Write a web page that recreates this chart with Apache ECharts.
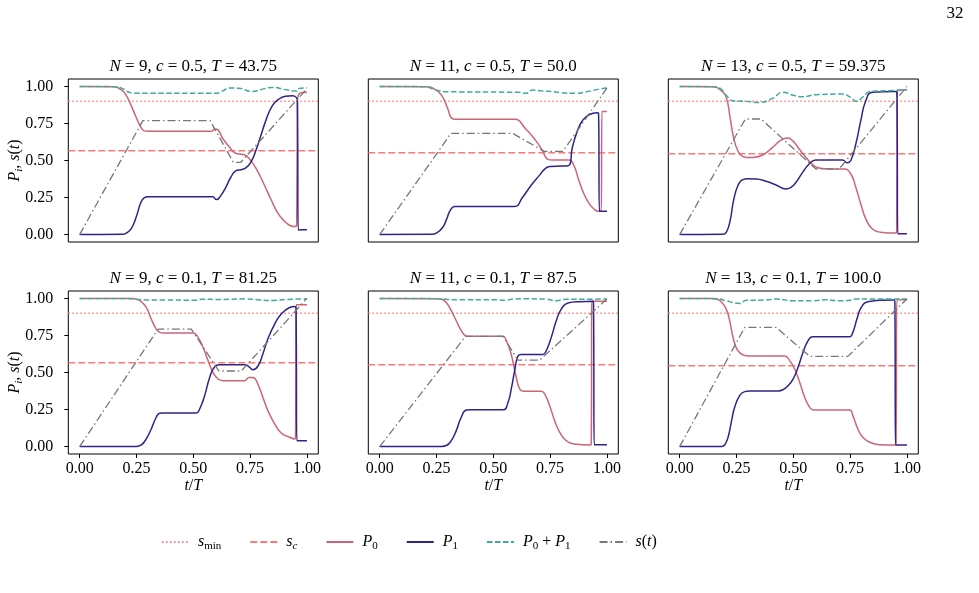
<!DOCTYPE html>
<html>
<head>
<meta charset="utf-8">
<script src="https://cdn.jsdelivr.net/npm/echarts@6/dist/echarts.min.js"></script>
<style>
  html, body { margin: 0; padding: 0; background: #fff; }
  #chart { width: 979px; height: 593px; }
</style>
</head>
<body>
<div id="chart"></div>
<script>
// ---- data (t/T, value) ----
const TICKS = [0, 0.25, 0.5, 0.75, 1]
const S_MIN = 0.9
const S_C = [0.565, 0.553, 0.545] // per N = 9, 11, 13

// N = 9, c = 0.5, T = 43.75
const S_A = [[0, 0], [0.278, 0.769], [0.574, 0.769], [0.676, 0.488], [0.709, 0.488], [1, 0.985]]
const P0_A = [[0, 1], [0.15, 0.998], [0.185, 0.975], [0.205, 0.94], [0.227, 0.87], [0.249, 0.79], [0.271, 0.72], [0.285, 0.70], [0.30, 0.697], [0.577, 0.697], [0.596, 0.712], [0.61, 0.705], [0.629, 0.65], [0.658, 0.593], [0.68, 0.555], [0.702, 0.544], [0.724, 0.539], [0.753, 0.499], [0.782, 0.43], [0.811, 0.34], [0.841, 0.24], [0.87, 0.15], [0.899, 0.094], [0.928, 0.06], [0.947, 0.054], [0.955, 0.072], [0.958, 0.88], [0.968, 0.953], [1, 0.96]]
const P1_A = [[0, 0], [0.19, 0.002], [0.205, 0.01], [0.227, 0.04], [0.249, 0.12], [0.27, 0.22], [0.285, 0.25], [0.30, 0.256], [0.585, 0.256], [0.602, 0.236], [0.621, 0.263], [0.643, 0.319], [0.665, 0.387], [0.687, 0.43], [0.709, 0.438], [0.731, 0.45], [0.753, 0.488], [0.775, 0.566], [0.797, 0.667], [0.819, 0.769], [0.848, 0.87], [0.877, 0.915], [0.906, 0.933], [0.936, 0.937], [0.953, 0.926], [0.958, 0.9], [0.962, 0.031], [1, 0.033]]
const SUM_A = [[0, 1], [0.16, 0.998], [0.19, 0.985], [0.215, 0.962], [0.24, 0.953], [0.6, 0.953], [0.63, 0.97], [0.658, 0.989], [0.70, 0.987], [0.76, 0.966], [0.80, 0.98], [0.848, 0.993], [0.90, 0.98], [0.936, 0.97], [0.955, 0.968], [0.962, 0.985], [1, 0.99]]

// N = 11, c = 0.5, T = 50.0
const S_B = [[0, 0], [0.314, 0.683], [0.585, 0.683], [0.724, 0.562], [0.807, 0.562], [1, 0.989]]
const P0_B = [[0, 1], [0.2, 0.998], [0.249, 0.975], [0.278, 0.926], [0.30, 0.847], [0.314, 0.79], [0.33, 0.778], [0.592, 0.778], [0.643, 0.712], [0.687, 0.634], [0.716, 0.566], [0.738, 0.51], [0.76, 0.503], [0.833, 0.503], [0.855, 0.465], [0.877, 0.364], [0.899, 0.274], [0.921, 0.211], [0.943, 0.173], [0.962, 0.157], [0.975, 0.157], [0.978, 0.831], [1, 0.831]]
const P1_B = [[0, 0], [0.23, 0.002], [0.249, 0.01], [0.278, 0.05], [0.295, 0.106], [0.31, 0.162], [0.329, 0.189], [0.345, 0.19], [0.592, 0.19], [0.629, 0.252], [0.665, 0.33], [0.702, 0.398], [0.731, 0.449], [0.753, 0.46], [0.83, 0.465], [0.848, 0.589], [0.87, 0.70], [0.892, 0.768], [0.921, 0.809], [0.958, 0.822], [0.963, 0.82], [0.967, 0.157], [1, 0.157]]
const SUM_B = [[0, 1], [0.2, 0.998], [0.249, 0.975], [0.30, 0.964], [0.615, 0.96], [0.643, 0.953], [0.673, 0.975], [0.709, 0.971], [0.753, 0.966], [0.80, 0.957], [0.863, 0.953], [0.906, 0.962], [0.96, 0.98], [1, 0.989]]

// N = 13, c = 0.5, T = 59.375
const S_C13 = [[0, 0], [0.289, 0.78], [0.358, 0.78], [0.599, 0.443], [0.702, 0.443], [1, 1]]
const P0_C = [[0, 1], [0.15, 0.998], [0.183, 0.971], [0.205, 0.926], [0.222, 0.79], [0.237, 0.656], [0.256, 0.566], [0.278, 0.526], [0.30, 0.52], [0.322, 0.521], [0.365, 0.537], [0.409, 0.589], [0.446, 0.638], [0.475, 0.652], [0.497, 0.634], [0.526, 0.578], [0.556, 0.521], [0.585, 0.472], [0.614, 0.449], [0.658, 0.443], [0.724, 0.443], [0.753, 0.409], [0.775, 0.319], [0.797, 0.207], [0.819, 0.106], [0.848, 0.038], [0.884, 0.016], [0.95, 0.01], [0.955, 0.02], [0.958, 0.971], [1, 0.978]]
const P1_C = [[0, 0], [0.19, 0.002], [0.205, 0.015], [0.222, 0.094], [0.237, 0.229], [0.256, 0.33], [0.278, 0.371], [0.30, 0.376], [0.336, 0.375], [0.38, 0.36], [0.424, 0.335], [0.468, 0.308], [0.49, 0.319], [0.512, 0.353], [0.541, 0.42], [0.57, 0.476], [0.599, 0.503], [0.716, 0.503], [0.738, 0.485], [0.753, 0.5], [0.775, 0.611], [0.797, 0.769], [0.819, 0.903], [0.848, 0.96], [0.95, 0.966], [0.956, 0.95], [0.96, 0.005], [1, 0.005]]
const SUM_C = [[0, 1], [0.15, 0.998], [0.18, 0.985], [0.205, 0.94], [0.234, 0.903], [0.292, 0.899], [0.351, 0.892], [0.409, 0.919], [0.453, 0.96], [0.497, 0.942], [0.541, 0.93], [0.6, 0.944], [0.716, 0.948], [0.753, 0.926], [0.778, 0.899], [0.804, 0.926], [0.84, 0.966], [0.92, 0.971], [1, 0.978]]

// N = 9, c = 0.1, T = 81.25
const S_D = [[0, 0], [0.345, 0.793], [0.491, 0.793], [0.613, 0.51], [0.711, 0.51], [1, 1]]
const P0_D = [[0, 1], [0.23, 0.999], [0.249, 0.996], [0.271, 0.978], [0.293, 0.939], [0.315, 0.861], [0.337, 0.793], [0.352, 0.771], [0.37, 0.766], [0.499, 0.766], [0.521, 0.737], [0.543, 0.67], [0.565, 0.58], [0.587, 0.501], [0.609, 0.456], [0.631, 0.445], [0.726, 0.445], [0.745, 0.467], [0.762, 0.467], [0.784, 0.422], [0.806, 0.333], [0.828, 0.243], [0.858, 0.153], [0.887, 0.092], [0.924, 0.063], [0.946, 0.052], [0.95, 0.06], [0.953, 0.957], [1, 0.957]]
const P1_D = [[0, 0], [0.249, 0.001], [0.271, 0.011], [0.293, 0.052], [0.315, 0.119], [0.337, 0.198], [0.352, 0.225], [0.37, 0.227], [0.513, 0.227], [0.528, 0.254], [0.55, 0.344], [0.572, 0.467], [0.594, 0.539], [0.616, 0.553], [0.726, 0.553], [0.748, 0.535], [0.762, 0.519], [0.784, 0.542], [0.806, 0.625], [0.828, 0.726], [0.858, 0.827], [0.887, 0.894], [0.924, 0.939], [0.947, 0.946], [0.952, 0.93], [0.956, 0.04], [1, 0.04]]
const SUM_D = [[0, 1], [0.205, 0.999], [0.26, 0.993], [0.293, 0.99], [0.38, 0.99], [0.5, 0.987], [0.543, 0.994], [0.616, 0.993], [0.73, 0.997], [0.79, 0.99], [0.85, 0.986], [0.91, 0.993], [1, 0.997]]

// N = 11, c = 0.1, T = 87.5
const S_E = [[0, 0], [0.378, 0.744], [0.543, 0.744], [0.608, 0.584], [0.704, 0.584], [1, 0.996]]
const P0_E = [[0, 1], [0.26, 0.998], [0.271, 0.996], [0.293, 0.973], [0.315, 0.917], [0.337, 0.849], [0.359, 0.782], [0.378, 0.748], [0.39, 0.744], [0.543, 0.744], [0.557, 0.715], [0.572, 0.658], [0.587, 0.569], [0.601, 0.467], [0.616, 0.389], [0.631, 0.373], [0.711, 0.373], [0.726, 0.355], [0.748, 0.276], [0.77, 0.175], [0.792, 0.097], [0.821, 0.04], [0.865, 0.016], [0.928, 0.011], [0.931, 0.02], [0.934, 0.98], [1, 0.98]]
const P1_E = [[0, 0], [0.271, 0.001], [0.293, 0.007], [0.315, 0.04], [0.337, 0.108], [0.359, 0.198], [0.381, 0.247], [0.40, 0.249], [0.543, 0.249], [0.565, 0.299], [0.579, 0.389], [0.594, 0.512], [0.608, 0.609], [0.623, 0.622], [0.718, 0.622], [0.733, 0.647], [0.755, 0.737], [0.777, 0.849], [0.799, 0.928], [0.828, 0.969], [0.88, 0.978], [0.938, 0.98], [0.941, 0.97], [0.944, 0.013], [1, 0.013]]
const SUM_E = [[0, 1], [0.265, 0.998], [0.3, 0.993], [0.35, 0.991], [0.5, 0.991], [0.557, 0.988], [0.587, 0.996], [0.65, 0.997], [0.733, 0.995], [0.777, 0.984], [0.82, 0.995], [0.93, 0.995], [1, 0.996]]

// N = 13, c = 0.1, T = 100.0
const S_F = [[0, 0], [0.286, 0.804], [0.425, 0.804], [0.572, 0.609], [0.74, 0.609], [1, 0.996]]
const P0_F = [[0, 1], [0.15, 0.999], [0.161, 0.996], [0.183, 0.978], [0.205, 0.928], [0.22, 0.849], [0.235, 0.737], [0.252, 0.658], [0.271, 0.625], [0.293, 0.613], [0.31, 0.611], [0.462, 0.611], [0.484, 0.58], [0.506, 0.524], [0.528, 0.434], [0.55, 0.333], [0.572, 0.265], [0.589, 0.247], [0.605, 0.247], [0.748, 0.247], [0.762, 0.209], [0.784, 0.119], [0.806, 0.063], [0.836, 0.029], [0.88, 0.013], [0.946, 0.011], [0.952, 0.02], [0.956, 0.991], [1, 0.991]]
const P1_F = [[0, 0], [0.185, 0.001], [0.198, 0.011], [0.213, 0.063], [0.227, 0.164], [0.242, 0.265], [0.264, 0.344], [0.286, 0.371], [0.308, 0.375], [0.433, 0.375], [0.455, 0.384], [0.477, 0.411], [0.499, 0.456], [0.521, 0.535], [0.543, 0.636], [0.565, 0.715], [0.584, 0.742], [0.60, 0.742], [0.748, 0.742], [0.762, 0.771], [0.78, 0.861], [0.799, 0.939], [0.828, 0.978], [0.88, 0.987], [0.943, 0.989], [0.947, 0.97], [0.95, 0.011], [1, 0.011]]
const SUM_F = [[0, 1], [0.161, 0.998], [0.205, 0.984], [0.235, 0.972], [0.264, 0.966], [0.293, 0.987], [0.38, 0.989], [0.425, 0.996], [0.5, 0.984], [0.584, 0.984], [0.645, 0.991], [0.7, 0.984], [0.748, 0.987], [0.777, 0.996], [0.86, 0.996], [1, 0.996]]

const TITLES = [
  ['9', '0.5', '43.75'], ['11', '0.5', '50.0'], ['13', '0.5', '59.375'],
  ['9', '0.1', '81.25'], ['11', '0.1', '87.5'], ['13', '0.1', '100.0']
]
const PANELS = [
  [P0_A, P1_A, SUM_A, S_A], [P0_B, P1_B, SUM_B, S_B], [P0_C, P1_C, SUM_C, S_C13],
  [P0_D, P1_D, SUM_D, S_D], [P0_E, P1_E, SUM_E, S_E], [P0_F, P1_F, SUM_F, S_F]
]

// ---- layout / style ----
const SERIF = '"Liberation Serif", "DejaVu Serif", serif'
const LEFT = [68.3, 368.3, 668.3]
const TOP = [79, 291]
const W = 250
const H = 163
const X_MIN = -0.05
const X_MAX = 1.05

const COL_SMIN = '#ff7f7f'
const COL_SC = '#f87a7a'
const COL_P0 = '#cc6677'
const COL_P1 = '#332288'
const COL_SUM = '#44aa99'
const COL_S = '#777777'

function makeRich(size) {
  const sub = Math.round(size * 0.7)
  return {
    i: { fontFamily: SERIF, fontStyle: 'italic', fontSize: size, color: '#000', lineHeight: size + 4 },
    r: { fontFamily: SERIF, fontSize: size, color: '#000', lineHeight: size + 4 },
    sub: { fontFamily: SERIF, fontSize: sub, color: '#000', lineHeight: sub, verticalAlign: 'bottom' },
    subi: { fontFamily: SERIF, fontStyle: 'italic', fontSize: sub, color: '#000', lineHeight: sub, verticalAlign: 'bottom' }
  }
}
const RICH16 = makeRich(16)
const RICH17 = makeRich(17)

const LEGEND_LABELS = {
  smin: ' {i|s}{sub|min}',
  sc: ' {i|s}{subi|c}',
  P0: ' {i|P}{sub|0}',
  P1: ' {i|P}{sub|1}',
  P0P1: ' {i|P}{sub|0}{r| + }{i|P}{sub|1}',
  s: ' {i|s}{r|(}{i|t}{r|)}'
}

const chart = echarts.init(document.getElementById('chart'))

const grid = []
const xAxis = []
const yAxis = []
const series = []
const graphic = []

function line(name, k, data, color, type, width, smooth) {
  return {
    name: name, type: 'line', xAxisIndex: k, yAxisIndex: k, data: data,
    symbol: 'none', showSymbol: false, smooth: smooth, silent: true,
    lineStyle: { color: color, type: type, width: width },
    itemStyle: { color: color }
  }
}

PANELS.forEach(function(p, k) {
  const col = k % 3
  const row = Math.floor(k / 3)
  grid.push({
    left: LEFT[col], top: TOP[row], width: W, height: H,
    show: true, borderColor: '#000', borderWidth: 1, backgroundColor: 'transparent'
  })
  xAxis.push({
    gridIndex: k, type: 'value', min: X_MIN, max: X_MAX,
    axisLine: { show: false, onZero: false }, splitLine: { show: false },
    axisTick: { show: row === 1, customValues: TICKS, length: 4, lineStyle: { color: '#000', width: 1 } },
    axisLabel: {
      show: row === 1, customValues: TICKS, margin: 7,
      formatter: function(v) { return v.toFixed(2) },
      fontFamily: SERIF, fontSize: 16, color: '#000'
    },
    name: row === 1 ? '{i|t}{r|/}{i|T}' : '',
    nameLocation: 'middle', nameGap: 22, nameMoveOverlap: false,
    nameTextStyle: { fontFamily: SERIF, fontSize: 16, color: '#000', rich: RICH16 }
  })
  yAxis.push({
    gridIndex: k, type: 'value', min: -0.05, max: 1.05,
    axisLine: { show: false, onZero: false }, splitLine: { show: false },
    axisTick: { show: col === 0, customValues: TICKS, length: 4, lineStyle: { color: '#000', width: 1 } },
    axisLabel: {
      show: col === 0, customValues: TICKS, margin: 15,
      formatter: function(v) { return v.toFixed(2) },
      fontFamily: SERIF, fontSize: 16, color: '#000'
    },
    name: col === 0 ? '{i|P}{subi|i}{r|, }{i|s}{r|(}{i|t}{r|)}' : '',
    nameLocation: 'middle', nameRotate: 90, nameGap: 44, nameMoveOverlap: false,
    nameTextStyle: { fontFamily: SERIF, fontSize: 16, color: '#000', rich: RICH16 }
  })
  const sc = S_C[col]
  series.push(line('smin', k, [[X_MIN, S_MIN], [X_MAX, S_MIN]], COL_SMIN, [1.5, 2.5], 1.3, false))
  series.push(line('sc', k, [[X_MIN, sc], [X_MAX, sc]], COL_SC, [7, 3], 1.5, false))
  series.push(line('P0', k, p[0], COL_P0, 'solid', 1.5, 0.5))
  series.push(line('P1', k, p[1], COL_P1, 'solid', 1.5, 0.5))
  series.push(line('P0P1', k, p[2], COL_SUM, [5.5, 2.5], 1.5, 0.5))
  series.push(line('s', k, p[3], COL_S, [8, 3, 1.5, 3], 1.3, false))

  const t = TITLES[k]
  graphic.push({
    type: 'text', x: LEFT[col] + W / 2, y: TOP[row] - 12,
    style: {
      text: '{i|N}{r| = ' + t[0] + ', }{i|c}{r| = ' + t[1] + ', }{i|T}{r| = ' + t[2] + '}',
      align: 'center', verticalAlign: 'middle', rich: RICH17
    }
  })
})

graphic.push({
  type: 'text', x: 955, y: 14,
  style: { text: '32', font: '17px ' + SERIF, fill: '#000', align: 'center', verticalAlign: 'middle' }
})

chart.setOption({
  backgroundColor: '#fff',
  animation: false,
  grid: grid,
  xAxis: xAxis,
  yAxis: yAxis,
  series: series,
  graphic: graphic,
  legend: {
    data: ['smin', 'sc', 'P0', 'P1', 'P0P1', 's'],
    selectedMode: false,
    left: 156, top: 529,
    itemWidth: 27, itemHeight: 12, itemGap: 28,
    itemStyle: { color: 'transparent', borderWidth: 0, opacity: 0 },
    formatter: function(name) { return LEGEND_LABELS[name] },
    textStyle: { fontFamily: SERIF, fontSize: 16, color: '#000', rich: RICH16 }
  }
})
</script>
</body>
</html>
